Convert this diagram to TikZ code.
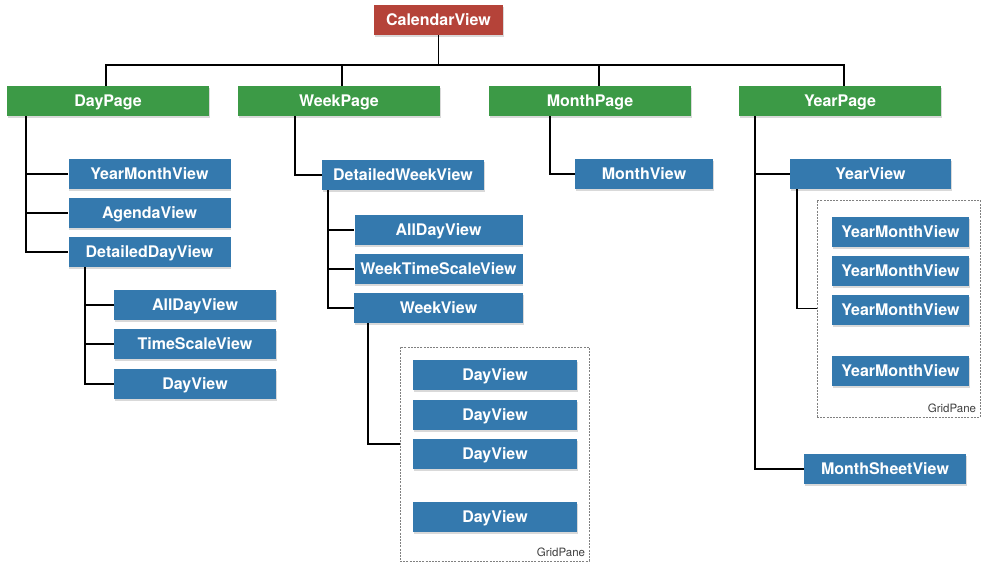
\documentclass[tikz,border=0pt]{standalone}
\usepackage{fontspec}
\setmainfont{TeX Gyre Heros}
\usetikzlibrary{shadows}
\definecolor{viewred}{RGB}{181,67,57}
\definecolor{pagegreen}{RGB}{60,154,70}
\definecolor{viewblue}{RGB}{52,121,174}

\begin{document}
\begin{tikzpicture}[x=1pt,y=-1pt,
	box/.style={minimum height=30pt,inner sep=0pt,text=white,font=\fontsize{16}{18}\selectfont\bfseries,
		text height=11.5pt,text depth=1pt,
		drop shadow={shadow xshift=0.6pt,shadow yshift=-1.6pt,opacity=0.3}},
	page/.style={box,fill=pagegreen,minimum width=202pt},
	view/.style={box,fill=viewblue,minimum width=162pt},
	tree/.style={line width=1.7pt},
	pane/.style={draw=gray,dash pattern=on 2pt off 1.2pt,line width=0.6pt,inner sep=0pt},
	panelabel/.style={text=black!75,font=\fontsize{11.5}{13}\selectfont,inner sep=0pt}]
	\useasboundingbox (0,0) rectangle (989,571);

	\node[box,fill=viewred,minimum width=129pt] (cal) at (438.5,20) {CalendarView};
	\node[page] (dayp) at (108,101) {DayPage};
	\node[page] (weekp) at (339,101) {WeekPage};
	\node[page] (monthp) at (590,101) {MonthPage};
	\node[page] (yearp) at (840,101) {YearPage};

	\draw[tree] (cal.south) -- (438.5,65) coordinate (bus);
	\draw[tree] ([xshift=-2pt]dayp.north) |- (bus) -| ([xshift=4pt]yearp.north);
	\draw[tree] ([xshift=3pt]weekp.north) |- (bus);
	\draw[tree] ([xshift=9pt]monthp.north) |- (bus);

	% DayPage
	\node[view] (dymv) at (149.5,174) {YearMonthView};
	\node[view] (dagenda) at (149.5,213) {AgendaView};
	\node[view] (ddetail) at (149.5,252) {DetailedDayView};
	\foreach \v in {dymv,dagenda,ddetail}
		\draw[tree] ([xshift=19pt]dayp.south west) |- (\v.west);
	\node[view] (dallday) at (195,305) {AllDayView};
	\node[view] (dscale) at (195,344) {TimeScaleView};
	\node[view] (dday) at (195,384) {DayView};
	\foreach \v in {dallday,dscale,dday}
		\draw[tree] ([xshift=17pt]ddetail.south west) |- (\v.west);

	% WeekPage
	\node[view] (wdetail) at (403,175) {DetailedWeekView};
	\draw[tree] ([xshift=57pt]weekp.south west) |- (wdetail.west);
	\node[view,minimum width=168pt] (wallday) at (438.5,230) {AllDayView};
	\node[view,minimum width=168pt] (wscale) at (438.5,269) {WeekTimeScaleView};
	\node[view,minimum width=169pt] (wview) at (438.5,308) {WeekView};
	\foreach \v in {wallday,wscale,wview}
		\draw[tree] ([xshift=6pt]wdetail.south west) |- (\v.west);
	\node[pane,minimum width=189pt,minimum height=214pt] (wgrid) at (494.5,454) {};
	\node[panelabel,anchor=south east] (wgridlabel) at ([shift={(-4pt,4pt)}]wgrid.south east) {GridPane};
	\foreach \y [count=\i] in {375,415,454,517}
		\node[view,minimum width=164pt] (wday\i) at (495,\y) {DayView};
	\draw[tree] ([xshift=14pt]wview.south west) |- ([yshift=10pt]wgrid.west);

	% MonthPage
	\node[view,minimum width=138pt] (mview) at (644,174) {MonthView};
	\draw[tree] ([xshift=61pt]monthp.south west) |- (mview.west);

	% YearPage
	\node[view,minimum width=161pt] (yview) at (870.5,174) {YearView};
	\node[view] (ysheet) at (885,469) {MonthSheetView};
	\foreach \v in {yview,ysheet}
		\draw[tree] ([xshift=16pt]yearp.south west) |- (\v.west);
	\node[pane,minimum width=163pt,minimum height=217pt] (ygrid) at (898.5,308.5) {};
	\node[panelabel,anchor=south east] (ygridlabel) at ([shift={(-4pt,4pt)}]ygrid.south east) {GridPane};
	\foreach \y [count=\i] in {232,271,310,371}
		\node[view,minimum width=137pt] (ymv\i) at (900.5,\y) {YearMonthView};
	\draw[tree] ([xshift=7pt]yview.south west) |- (ygrid.west);
\end{tikzpicture}
\end{document}
